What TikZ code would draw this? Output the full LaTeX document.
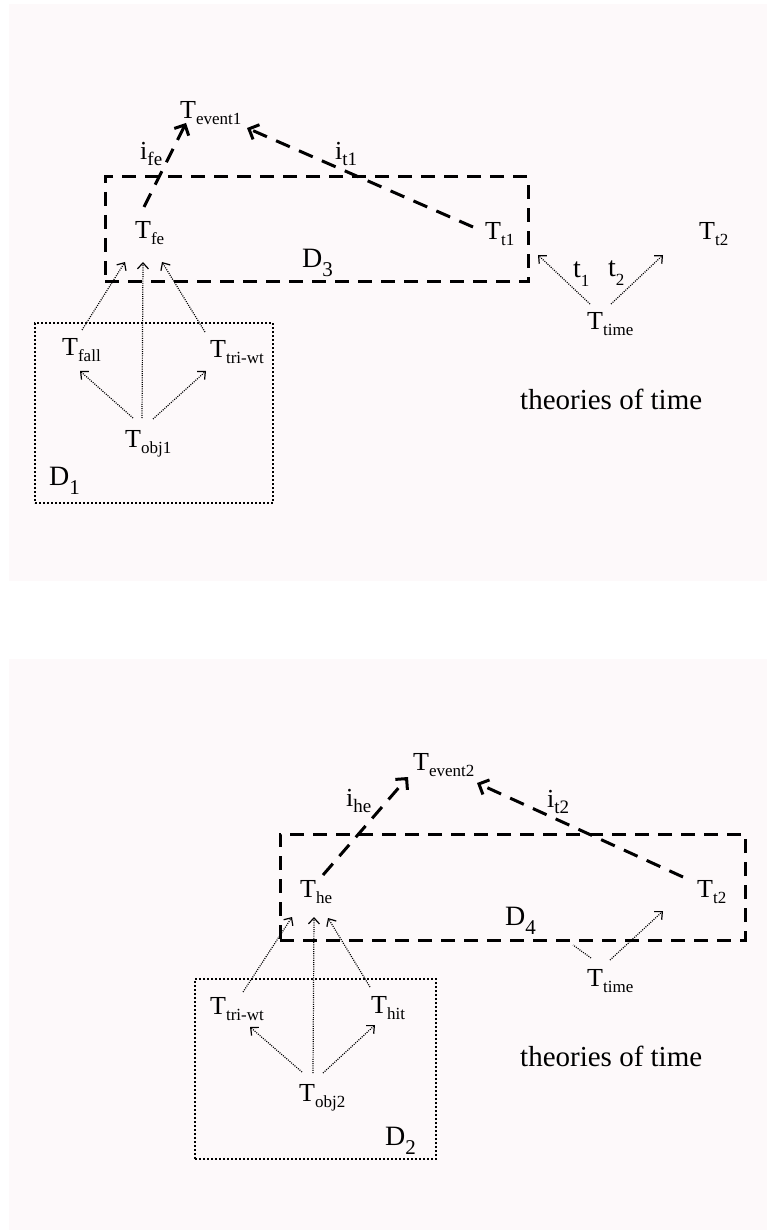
\documentclass[tikz,border=0pt]{standalone}
\usepackage{fontspec}
\setmainfont{Liberation Serif}
\usetikzlibrary{arrows.meta,calc}
\definecolor{panel}{RGB}{253,249,250}
\newcommand\sbs[2][17]{\raisebox{-6pt}{\fontsize{#1}{#1}\selectfont #2}}
\newcommand\dsb[2][21]{\raisebox{-9pt}{\fontsize{#1}{#1}\selectfont #2}}
\begin{document}
\begin{tikzpicture}[x=1pt,y=-1pt,
  lbl/.style={anchor=base west,inner sep=0pt,font=\fontsize{26}{30}\selectfont},
  dlbl/.style={anchor=base west,inner sep=0pt,font=\fontsize{28}{32}\selectfont},
  tlbl/.style={anchor=base west,inner sep=0pt,font=\fontsize{29}{33}\selectfont},
  dashbox/.style={draw,line width=3pt,dash pattern=on 14pt off 9pt,inner sep=0pt},
  dotbox/.style={draw,line width=2pt,dash pattern=on 2pt off 2pt,inner sep=0pt},
  darr/.style={line width=3pt,dash pattern=on 15pt off 10pt,-{Straight Barb[length=8pt,width=16pt]}},
  dotarr/.style={line width=1.2pt,dash pattern=on 1pt off 1.2pt,-{Straight Barb[length=6pt,width=11pt]}},
  dotline/.style={line width=1.2pt,dash pattern=on 1pt off 1.2pt}
]
\useasboundingbox (0,0) rectangle (767,1230);
\fill[panel] (9,4) rectangle (767,581);
\fill[panel] (9,659) rectangle (767,1230);

% ---------- panel 1 ----------
\node[dashbox,minimum width=423pt,minimum height=105pt] (boxD3) at (316.5,229.5) {};
\node[dotbox,minimum width=238pt,minimum height=180pt] (boxD1) at (154,413) {};

\node[lbl] (tev1) at (180,119) {T\sbs{event1}};
\node[lbl] (tfe) at (135,239) {T\sbs{fe}};
\node[lbl] (tt1) at (485,240) {T\sbs{t1}};
\node[lbl] (tt2) at (699,240) {T\sbs{t2}};
\node[lbl] (ttime) at (587,329) {T\sbs{time}};
\node[lbl] (tfall) at (62,355) {T\sbs{fall}};
\node[lbl] (ttri) at (210,357) {T\sbs{tri-wt}};
\node[lbl] (tobj1) at (125,447) {T\sbs{obj1}};
\node[lbl] (ife) at (140,160) {i\sbs[19]{fe}};
\node[lbl] (it1) at (335,160) {i\sbs[19]{t1}};
\node[dlbl] (d3) at (302,268) {D\dsb{3}};
\node[dlbl] (t1) at (573,278) {t\dsb[17]{1}};
\node[dlbl] (t2) at (608,277) {t\dsb[17]{2}};
\node[dlbl] (d1) at (49,485) {D\dsb{1}};
\node[tlbl] (tot1) at (520,409) {theories of time};

\draw[darr] ($(tfe.base west)+(9,-32)$) -- ($(tev1.base west)+(6,4)$);
\draw[darr] ($(tt1.base west)+(-12,-13)$) -- ($(tev1.base west)+(67,9)$);
\draw[dotarr] ($(tfall.base west)+(20,-25)$) -- ($(tfe.base west)+(-10,23)$);
\draw[dotarr] ($(tobj1.base west)+(17,-29)$) -- ($(tfe.base west)+(8,23)$);
\draw[dotarr] ($(ttri.base west)+(-5,-25)$) -- ($(tfe.base west)+(27,23)$);
\draw[dotarr] ($(tobj1.base west)+(8,-29)$) -- ($(tfall.base west)+(18,16)$);
\draw[dotarr] ($(tobj1.base west)+(28,-28)$) -- ($(ttri.base west)+(-4,14)$);
\draw[dotarr] ($(ttime.base west)+(3,-25)$) -- ($(tt1.base west)+(53,15)$);
\draw[dotarr] ($(ttime.base west)+(24,-25)$) -- ($(tt2.base west)+(-36,15)$);

% ---------- panel 2 ----------
\node[dashbox,minimum width=465pt,minimum height=106pt] (boxD4) at (512.5,887) {};
\node[dotbox,minimum width=241pt,minimum height=180pt] (boxD2) at (315.5,1069) {};

\node[lbl] (tev2) at (413,770) {T\sbs{event2}};
\node[lbl] (the) at (300,897) {T\sbs{he}};
\node[lbl] (tt2b) at (697,897) {T\sbs{t2}};
\node[lbl] (ttime2) at (587,986) {T\sbs{time}};
\node[lbl] (ttri2) at (210,1014) {T\sbs{tri-wt}};
\node[lbl] (thit) at (371,1013) {T\sbs{hit}};
\node[lbl] (tobj2) at (299,1101) {T\sbs{obj2}};
\node[lbl] (ihe) at (346,806) {i\sbs[19]{he}};
\node[lbl] (it2) at (547,807) {i\sbs[19]{t2}};
\node[dlbl] (d4) at (505,925) {D\dsb{4}};
\node[dlbl] (d2) at (385,1145) {D\dsb{2}};
\node[tlbl] (tot2) at (520,1066) {theories of time};
\coordinate (tfree) at ($(ttime2.base west)+(-14,-41)$);

\draw[darr] ($(the.base west)+(23,-22)$) -- ($(tev2.base west)+(-5,7)$);
\draw[darr] ($(tt2b.base west)+(-14,-20)$) -- ($(tev2.base west)+(64,13)$);
\draw[dotarr] ($(ttri2.base west)+(33,-22)$) -- ($(the.base west)+(-8,20)$);
\draw[dotarr] ($(tobj2.base west)+(14,-28)$) -- ($(the.base west)+(14,20)$);
\draw[dotarr] ($(thit.base west)+(-1,-26)$) -- ($(the.base west)+(28,21)$);
\draw[dotarr] ($(tobj2.base west)+(3,-29)$) -- ($(ttri2.base west)+(40,13)$);
\draw[dotarr] ($(tobj2.base west)+(24,-28)$) -- ($(thit.base west)+(4,12)$);
\draw[dotline] ($(ttime2.base west)+(4,-28)$) -- (tfree);
\draw[dotarr] ($(ttime2.base west)+(23,-26)$) -- ($(tt2b.base west)+(-34,14)$);
\end{tikzpicture}
\end{document}
